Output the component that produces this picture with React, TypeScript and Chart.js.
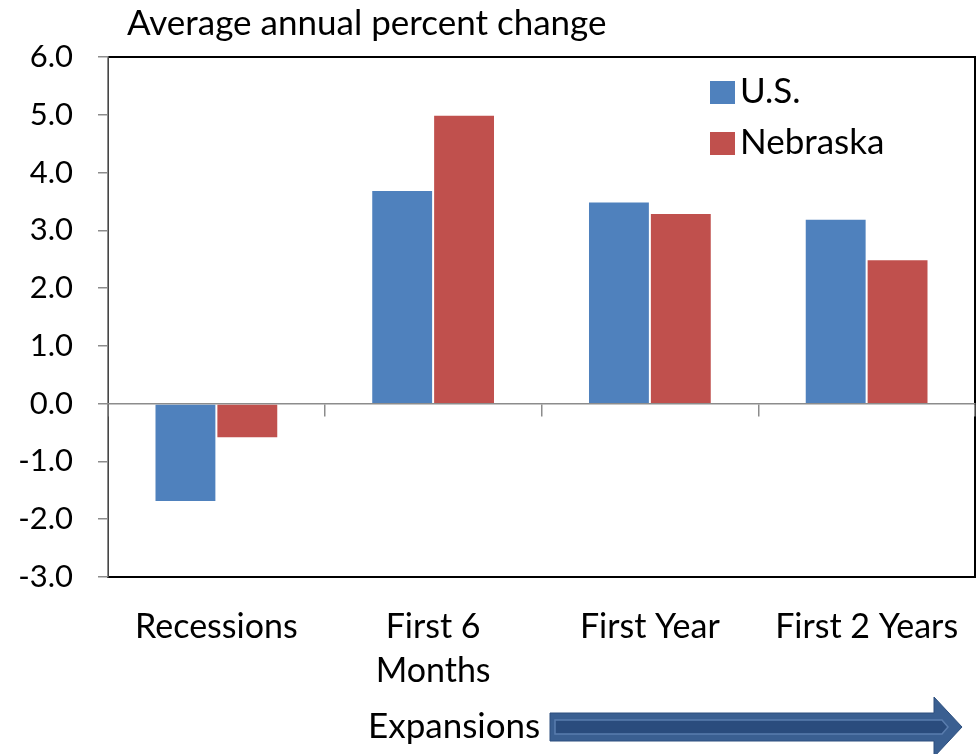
import React, { useEffect, useRef } from "react";
import { Chart, registerables } from "chart.js";

Chart.register(...registerables);

const categories: (string | string[])[] = ["Recessions", ["First 6", "Months"], "First Year", "First 2 Years"];
const usValues = [-1.7, 3.7, 3.5, 3.2];
const nebraskaValues = [-0.6, 5.0, 3.3, 2.5];
const seriesNames = ["U.S.", "Nebraska"];
const seriesColors = ["#4F81BD", "#C0504D"];
const titleText = "Average annual percent change";
const footerText = "Expansions";

const FONT = "Lato, 'Open Sans', sans-serif";

const decorPlugin = {
  id: "decor",
  beforeDraw(chart: any) {
    const { ctx, chartArea } = chart;
    ctx.save();
    ctx.strokeStyle = "#000";
    ctx.lineWidth = 2;
    ctx.strokeRect(chartArea.left, chartArea.top, chartArea.right - chartArea.left, chartArea.bottom - chartArea.top);
    ctx.restore();
  },
  afterDraw(chart: any) {
    const { ctx } = chart;
    ctx.save();
    // title
    ctx.fillStyle = "#000";
    ctx.font = `35px ${FONT}`;
    ctx.textAlign = "left";
    ctx.textBaseline = "alphabetic";
    ctx.fillText(titleText, 127, 35);
    // legend
    chart.data.datasets.forEach((ds: any, i: number) => {
      const cy = 92 + i * 51;
      ctx.fillStyle = ds.backgroundColor;
      ctx.fillRect(710, cy - 11, 25, 23);
      ctx.fillStyle = "#000";
      ctx.font = `35px ${FONT}`;
      ctx.textBaseline = "middle";
      ctx.fillText(ds.label, 740, cy);
    });
    // footer
    ctx.font = `35px ${FONT}`;
    ctx.textBaseline = "middle";
    ctx.fillText(footerText, 368, 727);
    // arrow
    const x0 = 550, x1 = 934, xt = 962, yc = 727;
    ctx.beginPath();
    ctx.moveTo(x0, yc - 14);
    ctx.lineTo(x1, yc - 14);
    ctx.lineTo(x1, yc - 30);
    ctx.lineTo(xt, yc);
    ctx.lineTo(x1, yc + 30);
    ctx.lineTo(x1, yc + 14);
    ctx.lineTo(x0, yc + 14);
    ctx.closePath();
    ctx.fillStyle = "#3A5F91";
    ctx.fill();
    ctx.strokeStyle = "#2C4F7E";
    ctx.lineWidth = 1;
    ctx.stroke();
    // inner outline
    ctx.beginPath();
    ctx.moveTo(x0 + 5, yc - 7);
    ctx.lineTo(x1 + 8, yc - 7);
    ctx.lineTo(x1 + 14, yc);
    ctx.lineTo(x1 + 8, yc + 7);
    ctx.lineTo(x0 + 5, yc + 7);
    ctx.closePath();
    ctx.fillStyle = "#2A4C7D";
    ctx.fill();
    ctx.strokeStyle = "#5A7DAE";
    ctx.lineWidth = 1.5;
    ctx.stroke();
    ctx.restore();
  },
};

export default function App() {
  const ref = useRef<HTMLCanvasElement | null>(null);
  useEffect(() => {
    if (!ref.current) return;
    const chart = new Chart(ref.current, {
      type: "bar",
      data: {
        labels: categories,
        datasets: [
          { label: seriesNames[0], data: usValues, backgroundColor: seriesColors[0], borderColor: "rgba(255,255,255,0.35)", borderWidth: 1 },
          { label: seriesNames[1], data: nebraskaValues, backgroundColor: seriesColors[1], borderColor: "rgba(255,255,255,0.35)", borderWidth: 1 },
        ],
      },
      options: {
        animation: false,
        responsive: true,
        maintainAspectRatio: false,
        layout: { padding: { top: 57, right: 1, left: 0, bottom: 0 } },
        datasets: { bar: { categoryPercentage: 0.571, barPercentage: 1 } },
        plugins: { legend: { display: false }, title: { display: false }, tooltip: { enabled: false } },
        scales: {
          x: {
            position: "bottom",
            afterFit: (s: any) => { s.height = 177; s.paddingLeft = 0; s.paddingRight = 0; },
            grid: { display: true, drawOnChartArea: false, drawTicks: false },
            border: { display: true, color: "#000", width: 2 },
            ticks: { color: "#000", font: { family: FONT, size: 34, lineHeight: 1.3 }, padding: 28, maxRotation: 0, autoSkip: false },
          },
          x2: {
            type: "category",
            position: { y: 0 } as any,
            offset: true,
            afterFit: (s: any) => { s.paddingLeft = 0; s.paddingRight = 0; },
            grid: { offset: true, drawOnChartArea: false, drawTicks: true, tickLength: 12, color: "#8c8c8c", lineWidth: 1.5 },
            border: { display: true, color: "#8c8c8c", width: 1.5 },
            ticks: { display: false },
          },
          y: {
            min: -3,
            max: 6,
            afterFit: (s: any) => { s.width = 108; s.paddingTop = 0; s.paddingBottom = 0; },
            grid: { drawOnChartArea: false, drawTicks: true, tickLength: 10, color: "#8c8c8c", lineWidth: 1.5 },
            border: { display: true, color: "#8c8c8c", width: 1.5 },
            ticks: { stepSize: 1, color: "#000", padding: 25, font: { family: FONT, size: 31 }, callback: (v: any) => Number(v).toFixed(1) },
          },
        },
      },
      plugins: [decorPlugin],
    } as any);
    return () => chart.destroy();
  }, []);
  return (
    <div style={{ position: "fixed", left: 0, top: 0, width: 976, height: 754, background: "#fff" }}>
      <canvas ref={ref} />
    </div>
  );
}
